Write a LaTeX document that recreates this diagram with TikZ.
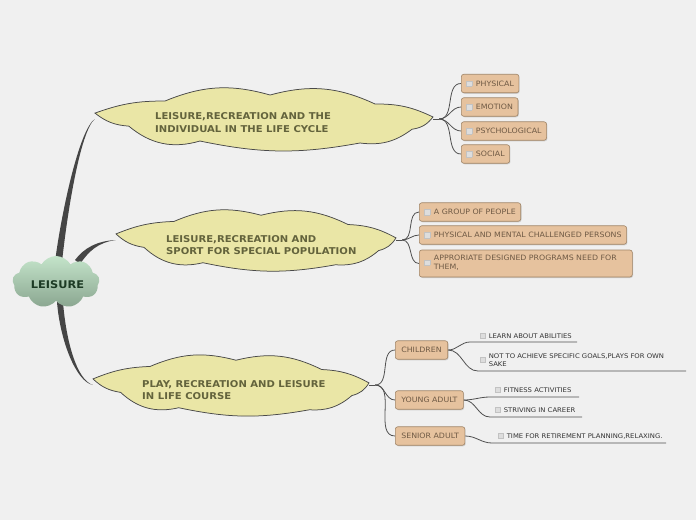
\documentclass[tikz,border=0pt]{standalone}
\usepackage{fontspec}
\setmainfont{DejaVu Sans}[FakeStretch=1.07]
\usetikzlibrary{shapes.symbols,shadows,calc}
\definecolor{bgc}{HTML}{F0F0F0}
\definecolor{cloudfill}{HTML}{EAE6A6}
\definecolor{cloudline}{HTML}{4A4A4A}
\definecolor{cloudtext}{HTML}{63633C}
\definecolor{roottop}{HTML}{C4E4CA}
\definecolor{rootbot}{HTML}{8AA690}
\definecolor{roottext}{HTML}{1C3A24}
\definecolor{rootc}{HTML}{454545}
\definecolor{childfill}{HTML}{E6C29E}
\definecolor{childline}{HTML}{A08466}
\definecolor{childtext}{HTML}{6F5A45}
\definecolor{thinc}{HTML}{505050}
\definecolor{leaftext}{HTML}{333333}
\definecolor{chkfill}{HTML}{DDDDDD}
\definecolor{chkline}{HTML}{C2C2C2}
\newcommand\chkb{{\fboxsep=0pt\fboxrule=0.4pt\fcolorbox{chkline}{chkfill}{\rule{0pt}{5.2pt}\rule{5.2pt}{0pt}}}\hspace{3.6pt}}
\newcommand\chkl{{\fboxsep=0pt\fboxrule=0.4pt\fcolorbox{chkline}{chkfill}{\rule{0pt}{4.6pt}\rule{4.6pt}{0pt}}}\hspace{3.2pt}}
% flat cloud outline around node #1 with half sizes #2 (x) and #3 (y)
\newcommand\cloudpath[3]{($(#1.center)+({-1.0*#2},{-0.19*#3})$)
  to[bend left=10] ($(#1.center)+({-0.586*#2},{-0.58*#3})$)
  to[bend left=19] ($(#1.center)+({0.036*#2},{-0.774*#3})$)
  to[bend left=20] ($(#1.center)+({0.657*#2},{-0.484*#3})$)
  to[bend left=13] ($(#1.center)+({1.0*#2},{-0.065*#3})$)
  to[bend left=22] ($(#1.center)+({0.876*#2},{0.33*#3})$)
  to[bend left=22] ($(#1.center)+({0.568*#2},{0.774*#3})$)
  to[bend left=11] ($(#1.center)+({-0.379*#2},{0.71*#3})$)
  to[bend left=28] ($(#1.center)+({-0.80*#2},{0.23*#3})$)
  to[bend left=17] ($(#1.center)+({-1.0*#2},{-0.19*#3})$) -- cycle}
\newcommand\drawcloud[3]{%
  \fill[black, opacity=0.28, shift={(0.7,1.3)}] \cloudpath{#1}{#2}{#3};
  \filldraw[fill=cloudfill, draw=cloudline, line width=0.75pt] \cloudpath{#1}{#2}{#3};}
\pgfdeclarelayer{bgl}\pgfdeclarelayer{conn}\pgfsetlayers{bgl,conn,main}
\tikzset{
  cloudanchor/.style={draw=none, inner sep=0pt, rectangle},
  cloudtxt/.style={text=cloudtext, font=\bfseries\fontsize{9.4}{12.6}\selectfont, align=left, inner sep=0pt, anchor=west},
  rootcloud/.style={cloud, cloud puffs=9, cloud puff arc=120, cloud ignores aspect,
    top color=roottop, bottom color=rootbot, draw=none, inner sep=0pt,
    minimum width=87pt, minimum height=52pt},
  roottxt/.style={text=roottext, font=\bfseries\fontsize{10.6}{12}\selectfont, inner sep=0pt},
  childbox/.style={draw=childline, fill=childfill, rounded corners=2.5pt, line width=0.6pt,
    text=childtext, font=\fontsize{7.35}{9}\selectfont, inner xsep=5pt, inner ysep=0pt,
    minimum height=18.5pt, anchor=west,
    drop shadow={shadow xshift=0.8pt, shadow yshift=-1pt, opacity=0.3}},
  leaf/.style={text=leaftext, font=\fontsize{6.4}{8}\selectfont, inner sep=0pt},
  thinline/.style={draw=thinc, line width=0.8pt},
}
\begin{document}
\begin{tikzpicture}[x=1pt,y=-1pt]
\begin{pgfonlayer}{bgl}
\fill[bgc] (0,0) rectangle (696,520);
\end{pgfonlayer}
\useasboundingbox (0,0) rectangle (696,520);

% main clouds
\node[cloudanchor, minimum width=338pt, minimum height=62pt] (c1) at (264,119) {};
\drawcloud{c1}{169}{31}
\node[cloudtxt] (t1) at (155,122.5) {LEISURE,RECREATION AND THE\\INDIVIDUAL IN THE LIFE CYCLE};
\node[cloudanchor, minimum width=280pt, minimum height=64pt] (c2) at (256,240) {};
\drawcloud{c2}{140}{32}
\node[cloudtxt] (t2) at (166,245) {LEISURE,RECREATION AND\\SPORT FOR SPECIAL POPULATION};
\node[cloudanchor, minimum width=276pt, minimum height=64pt] (c3) at (231,385) {};
\drawcloud{c3}{138}{32}
\node[cloudtxt] (t3) at (142,390) {PLAY, RECREATION AND LEISURE\\IN LIFE COURSE};

% root
\node[rootcloud] (root) at (56,282) {};
\node[roottxt] (rt) at (57.5,285) {LEISURE};

% children of c1
\node[childbox] (ph) at (461,83.5) {\chkb PHYSICAL};
\node[childbox] (em) at (461,107) {\chkb EMOTION};
\node[childbox] (ps) at (461,131) {\chkb PSYCHOLOGICAL};
\node[childbox] (so) at (461,154) {\chkb SOCIAL};
% children of c2
\node[childbox] (gp) at (419,212) {\chkb A GROUP OF PEOPLE};
\node[childbox] (pm) at (419,235) {\chkb PHYSICAL AND MENTAL CHALLENGED PERSONS};
\node[childbox, minimum height=27pt, text width=203pt, align=left] (ap) at (419,263.5) {\chkb\begin{tabular}{@{}l@{}}APPRORIATE DESIGNED PROGRAMS NEED FOR\\THEM,\end{tabular}};
% children of c3
\node[childbox, inner xsep=6pt] (ch) at (395,350) {CHILDREN};
\node[childbox, inner xsep=6pt] (ya) at (395,400) {YOUNG ADULT};
\node[childbox, inner xsep=6pt] (sa) at (395,436) {SENIOR ADULT};

% leaves
\node[leaf, anchor=base west] (l1) at (480,338) {\chkl LEARN ABOUT ABILITIES};
\node[leaf, anchor=west] (l2) at (480,360.5) {\chkl\begin{tabular}{@{}l@{}}NOT TO ACHIEVE SPECIFIC GOALS,PLAYS FOR OWN\\SAKE\end{tabular}};
\node[leaf, anchor=base west] (l3) at (495,392) {\chkl FITNESS ACTIVITIES};
\node[leaf, anchor=base west] (l4) at (495,412) {\chkl STRIVING IN CAREER};
\node[leaf, anchor=base west] (l5) at (498,438) {\chkl TIME FOR RETIREMENT PLANNING,RELAXING.};

\coordinate (u1s) at (470,342); \coordinate (u1e) at (577,342);
\coordinate (u2s) at (478,371); \coordinate (u2e) at (686,371);
\coordinate (u3s) at (490,397); \coordinate (u3e) at (579,397);
\coordinate (u4s) at (490,417); \coordinate (u4e) at (582,417);
\coordinate (u5s) at (492,443); \coordinate (u5e) at (666,443);

\begin{pgfonlayer}{conn}
% root connectors (tapered)
\coordinate (rc) at (root.center);
\fill[rootc] ($(rc)+(-1,-20)$) .. controls ($(rc)+(5,-67)$) and ($(c1.west)+(-16,11)$) .. (c1.west)
  .. controls ($(c1.west)+(-14.8,12.6)$) and ($(rc)+(11,-67)$) .. ($(rc)+(6,-20)$) -- cycle;
\fill[rootc] ($(rc)+(19,-22)$) .. controls ($(rc)+(28,-34)$) and ($(c2.west)+(-19,1)$) .. (c2.west)
  .. controls ($(c2.west)+(-18,2.6)$) and ($(rc)+(33,-31)$) .. ($(rc)+(24,-18)$) -- cycle;
\fill[rootc] ($(rc)+(1,20)$) .. controls ($(rc)+(4,58)$) and ($(c3.west)+(-17,-3.5)$) .. (c3.west)
  .. controls ($(c3.west)+(-16.5,-5.5)$) and ($(rc)+(10,58)$) .. ($(rc)+(7,20)$) -- cycle;
% cloud children
\draw[thinline] (c1.east) -- ++(6,0) coordinate (k1);
\foreach \n in {ph,em,ps,so} \draw[thinline] (k1) to[out=0,in=180] (\n.west);
\draw[thinline] (c2.east) -- ++(6,0) coordinate (k2);
\foreach \n in {gp,pm,ap} \draw[thinline] (k2) to[out=0,in=180] (\n.west);
\draw[thinline] (c3.east) -- ++(6,0) coordinate (k3);
\foreach \n in {ch,ya,sa} \draw[thinline] (k3) to[out=0,in=180] (\n.west);
% leaves
\draw[thinline] (ch.east) to[out=0,in=180] (u1s) -- (u1e);
\draw[thinline] (ch.east) to[out=0,in=180] (u2s) -- (u2e);
\draw[thinline] (ya.east) to[out=0,in=180] (u3s) -- (u3e);
\draw[thinline] (ya.east) to[out=0,in=180] (u4s) -- (u4e);
\draw[thinline] (sa.east) to[out=0,in=180] (u5s) -- (u5e);
\end{pgfonlayer}
\end{tikzpicture}
\end{document}
